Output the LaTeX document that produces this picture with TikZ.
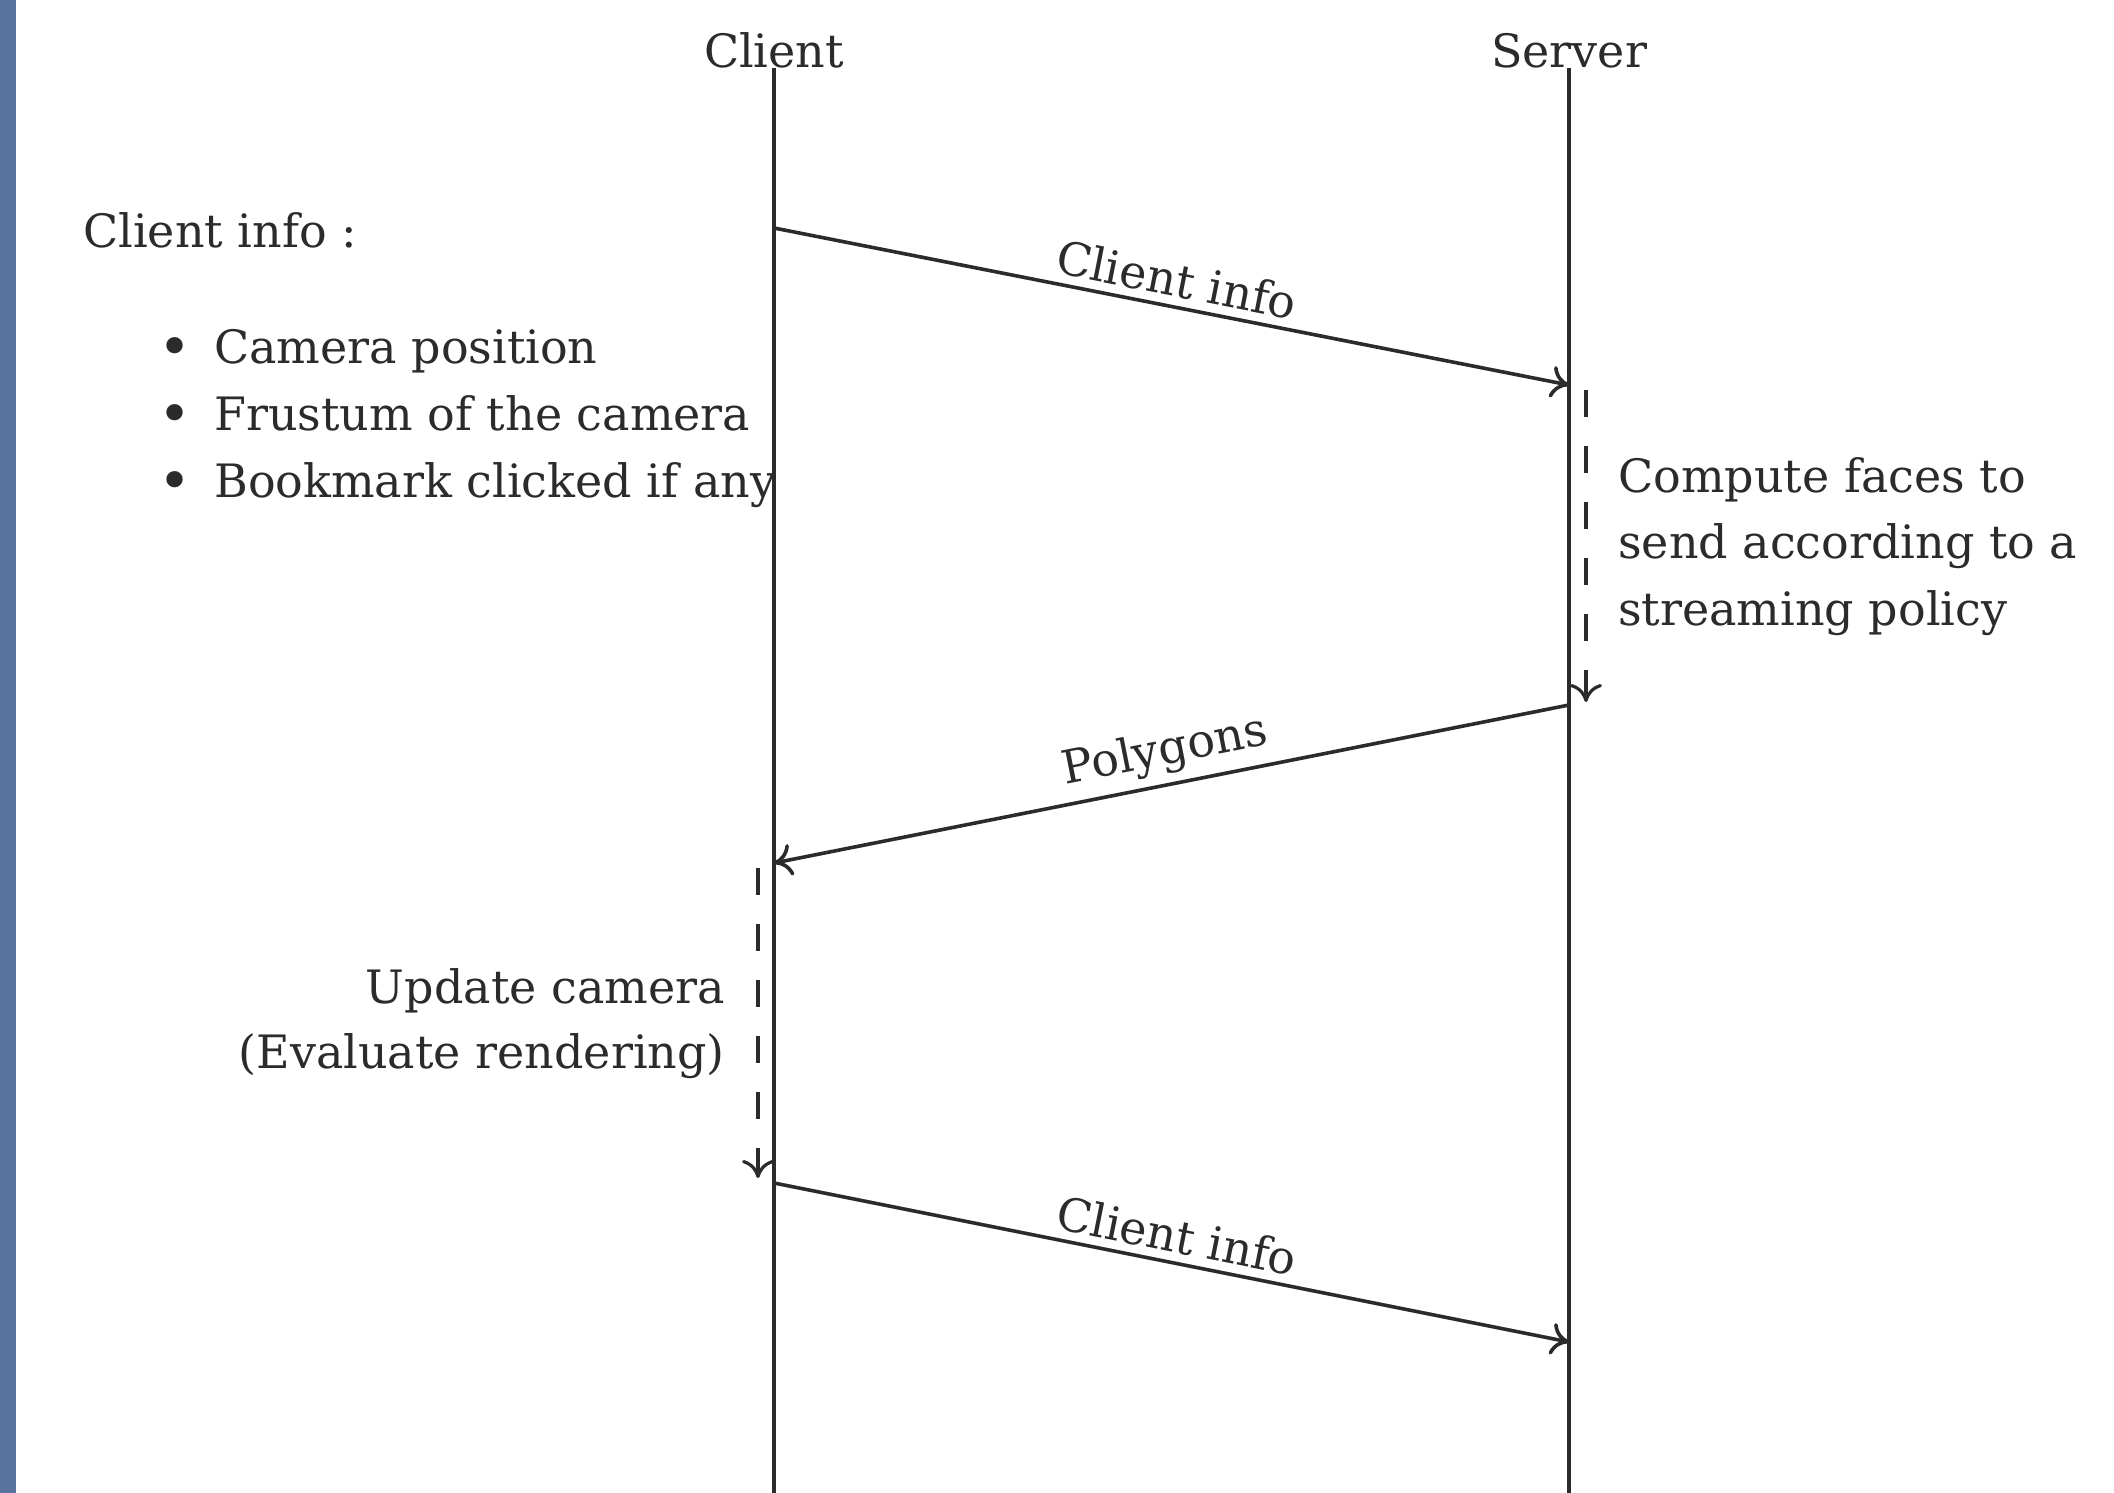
\documentclass[tikz,border=0pt]{standalone}
\usepackage{fontspec}
\setmainfont{DejaVu Serif}
\usetikzlibrary{arrows.meta}
\definecolor{ink}{HTML}{2B2B2B}
\definecolor{barblue}{HTML}{5A729E}
\begin{document}
\begin{tikzpicture}[x=1pt,y=-1pt,
  font=\fontsize{46}{66}\selectfont,
  every node/.style={text=ink},
  lifeline/.style={draw=ink,line width=3.6pt},
  msg/.style={draw=ink,line width=3.6pt,-{Computer Modern Rightarrow[length=18pt,width=32pt,line width=3.6pt]}},
  proc/.style={draw=ink,line width=3.2pt,dash pattern=on 27pt off 29pt,-{Computer Modern Rightarrow[length=18pt,width=32pt,line width=3.2pt]}},
  lbl/.style={midway,above=5pt,sloped,inner sep=3pt},
  txt/.style={anchor=base west,inner sep=0pt},
  rtxt/.style={anchor=base east,inner sep=0pt},
  bul/.style={anchor=base,inner sep=0pt,font=\fontsize{56}{66}\selectfont}]
\useasboundingbox (0,0) rectangle (2114,1493);
\fill[barblue] (0,0) rectangle (16,1493);

% headers and lifelines
\node[anchor=base,inner sep=0pt] (client) at (774,68) {Client};
\node[anchor=base,inner sep=0pt] (server) at (1569,68) {Server};
\coordinate (clientBot) at (774,1493);
\coordinate (serverBot) at (1569,1493);
\draw[lifeline] (client.base) -- (clientBot);
\draw[lifeline] (server.base) -- (serverBot);

% client info list
\node[txt] (ci) at (83,247) {Client info :};
\node[bul] (b1) at (175,366) {•};
\node[txt] (t1) at (214,363) {Camera position};
\node[bul] (b2) at (175,433) {•};
\node[txt] (t2) at (214,430) {Frustum of the camera};
\node[bul] (b3) at (175,500) {•};
\node[txt] (t3) at (214,497) {Bookmark clicked if any};

% message points
\coordinate (m1s) at (774,228);
\coordinate (m1e) at (1569,385);
\coordinate (m2s) at (1569,705);
\coordinate (m2e) at (774,863);
\coordinate (m3s) at (774,1183);
\coordinate (m3e) at (1569,1342);

\draw[msg] (m1s) -- node[lbl] (l1) {Client info} (m1e);
\draw[msg] (m2s) -- node[lbl] (l2) {Polygons} (m2e);
\draw[msg] (m3s) -- node[lbl] (l3) {Client info} (m3e);

% server processing
\coordinate (p1s) at (1586,390);
\coordinate (p1e) at (1586,702);
\draw[proc] (p1s) -- (p1e);
\node[txt] (c1) at (1618,492) {Compute faces to};
\node[txt] (c2) at (1618,558) {send according to a};
\node[txt] (c3) at (1618,625) {streaming policy};

% client processing
\coordinate (p2s) at (758,868);
\coordinate (p2e) at (758,1178);
\draw[proc] (p2s) -- (p2e);
\node[rtxt] (u1) at (725,1003) {Update camera};
\node[rtxt] (u2) at (725,1068) {(Evaluate rendering)};
\end{tikzpicture}
\end{document}
